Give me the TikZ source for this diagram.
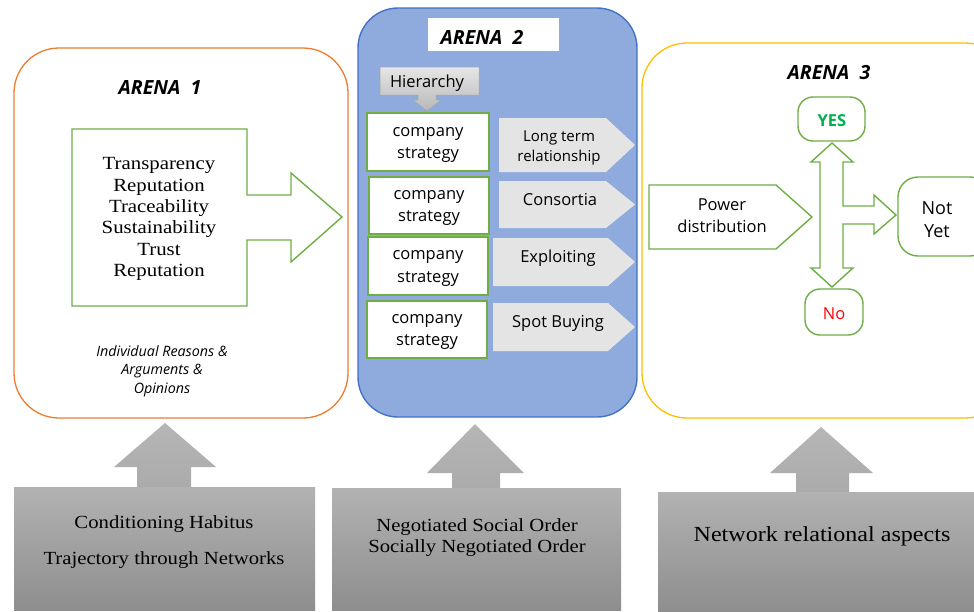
\documentclass[tikz,border=0pt]{standalone}
\usepackage{fontspec}
\setmainfont[FakeStretch=1.12]{Liberation Serif}
\setsansfont{Open Sans}
\definecolor{arOrange}{HTML}{ED7D31}
\definecolor{arBlueFill}{HTML}{8FAADC}
\definecolor{arBlueLine}{HTML}{4472C4}
\definecolor{arGold}{HTML}{FFC000}
\definecolor{arGreen}{HTML}{70AD47}
\definecolor{arGreenTxt}{HTML}{00B050}
\definecolor{arRed}{HTML}{FF0000}
\definecolor{arPale}{HTML}{E4E4E4}
\definecolor{grTop}{HTML}{B2B2B2}
\definecolor{grBot}{HTML}{8E8E8E}
\definecolor{hiTop}{HTML}{E6E6E6}
\definecolor{hiBot}{HTML}{B8B8B8}
\begin{document}
\begin{tikzpicture}[x=1pt,y=-1pt,
  sertext/.style={font=\fontsize{18.6}{21.3}\selectfont, align=center, inner sep=0pt},
  bottext/.style={font=\fontsize{18.5}{21.5}\selectfont, align=center, inner sep=0pt},
  sanstext/.style={font=\sffamily\fontsize{16.5}{22.5}\selectfont, align=center, inner sep=0pt},
  smalltext/.style={font=\sffamily\fontsize{15}{19.5}\selectfont, align=center, inner sep=0pt},
  arenalabel/.style={font=\sffamily\bfseries\itshape\fontsize{19.5}{22}\selectfont, inner sep=0pt},
  greenline/.style={draw=arGreen, line width=1.4pt, line join=miter},
  stratbox/.style={greenline, fill=white},
  palearrow/.style={fill=arPale},
  graybox/.style={top color=grTop, bottom color=grBot},
  grayarrow/.style={top color=grTop!95, bottom color=grTop!80!grBot},
  roundterm/.style={greenline, fill=white, rounded corners=15pt}]
\clip (0,0) rectangle (974,611);
\useasboundingbox (0,0) rectangle (974,611);
\fill[white] (0,0) rectangle (974,611);

% ---------------- ARENA 1 ----------------
\draw[arOrange, line width=1.3pt, rounded corners=45pt] (14,48) rectangle (348,418);
\node[arenalabel] (a1) at (160,88) {ARENA\ \ 1};
\draw[greenline, fill=white] (72,129) -- (247,129) -- (247,195) -- (291,195) -- (291,173)
  -- (342,217) -- (291,262) -- (291,240) -- (247,240) -- (247,306) -- (72,306) -- cycle;
\node[sertext] (a1list) at (159,219) {Transparency\\Reputation\\Traceability\\Sustainability\\Trust\\Reputation};
\node[font=\sffamily\itshape\fontsize{14.3}{18.5}\selectfont, align=center, inner sep=0pt] (a1reasons) at (162,371)
  {Individual Reasons \&\\Arguments \&\\Opinions};

% ---------------- ARENA 2 ----------------
\draw[draw=arBlueLine, fill=arBlueFill, line width=1.4pt, rounded corners=40pt] (358,8) rectangle (637,417);
\fill[white] (428,18) rectangle (559,51);
\node[arenalabel] (a2) at (482,37) {ARENA\ \ 2};
\shade[top color=hiTop, bottom color=hiBot, draw=gray!70, line width=0.5pt]
  (380,67) -- (479,67) -- (479,95) -- (436,95) -- (436,100) -- (441,100) -- (427,111)
  -- (413,100) -- (418,100) -- (418,95) -- (380,95) -- cycle;
\node[sanstext] (hier) at (427,83) {Hierarchy};

\draw[stratbox] (367,113) rectangle (489,171);
\draw[stratbox] (369,177) rectangle (489,234);
\draw[stratbox] (368,237) rectangle (488,295);
\draw[stratbox] (367,301) rectangle (487,358);
\node[sanstext] (cs1) at (428,145) {company\\strategy};
\node[sanstext] (cs2) at (429,208) {company\\strategy};
\node[sanstext] (cs3) at (428,268.5) {company\\strategy};
\node[sanstext] (cs4) at (427,332) {company\\strategy};

\fill[palearrow] (499,118) -- (606,118) -- (635,145) -- (606,172) -- (499,172) -- cycle;
\fill[palearrow] (499,181) -- (606,181) -- (635,204.5) -- (606,228) -- (499,228) -- cycle;
\fill[palearrow] (493,238) -- (608,238) -- (635,262) -- (608,286) -- (493,286) -- cycle;
\fill[palearrow] (493,303) -- (608,303) -- (635,327) -- (608,351) -- (493,351) -- cycle;
\node[smalltext] (ltr) at (559,148) {Long term\\relationship};
\node[sanstext] (cons) at (560,200) {Consortia};
\node[sanstext] (expl) at (558,258) {Exploiting};
\node[sanstext] (spot) at (558,323) {Spot Buying};

% ---------------- ARENA 3 ----------------
\draw[arGold, line width=1.3pt, rounded corners=45pt] (642,43) rectangle (1010,418);
\node[arenalabel] (a3) at (829,73) {ARENA\ \ 3};
\draw[greenline, fill=white] (649,185) -- (776,185) -- (812,217) -- (776,249) -- (649,249) -- cycle;
\node[sanstext] (pow) at (722,215.5) {Power\\distribution};
\draw[greenline, fill=white] (832,143) -- (853,162) -- (843,162) -- (843,206) -- (874,206) -- (874,195)
  -- (896,215) -- (874,234) -- (874,224) -- (843,224) -- (843,268) -- (853,268) -- (832,287)
  -- (811,268) -- (820,268) -- (820,162) -- (811,162) -- cycle;
\draw[roundterm] (798,97) rectangle (865,141);
\draw[roundterm] (805,289) rectangle (863,335);
\draw[greenline, fill=white, rounded corners=20pt] (898,177) rectangle (990,256);
\node[font=\sffamily\bfseries\fontsize{16.5}{18}\selectfont, text=arGreenTxt, inner sep=0pt] (yes) at (832,121) {YES};
\node[font=\sffamily\fontsize{16.5}{18}\selectfont, text=arRed, inner sep=0pt] (no) at (834,314) {No};
\node[font=\sffamily\fontsize{18}{23}\selectfont, align=center, inner sep=0pt] (notyet) at (937,220) {Not\\Yet};

% ---------------- bottom boxes ----------------
\shade[graybox] (14,487) rectangle (315,610);
\shade[grayarrow] (165,423) -- (216,467) -- (191,467) -- (191,487) -- (137,487) -- (137,467) -- (114,467) -- cycle;
\node[bottext] (cond) at (164,524) {Conditioning Habitus};
\node[bottext] (traj) at (164,560) {Trajectory through Networks};

\shade[graybox] (332,488) rectangle (621,610);
\shade[grayarrow] (475,424) -- (524,473) -- (500,473) -- (500,488) -- (452,488) -- (452,473) -- (427,473) -- cycle;
\node[bottext] (nso) at (477,537.5) {Negotiated Social Order\\Socially Negotiated Order};

\shade[graybox] (658,492) rectangle (990,611);
\shade[grayarrow] (821,427) -- (873,473) -- (849,473) -- (849,492) -- (796,492) -- (796,473) -- (770,473) -- cycle;
\node[font=\fontsize{21.5}{24}\selectfont, inner sep=0pt] (net) at (822,536) {Network relational aspects};
\end{tikzpicture}
\end{document}
